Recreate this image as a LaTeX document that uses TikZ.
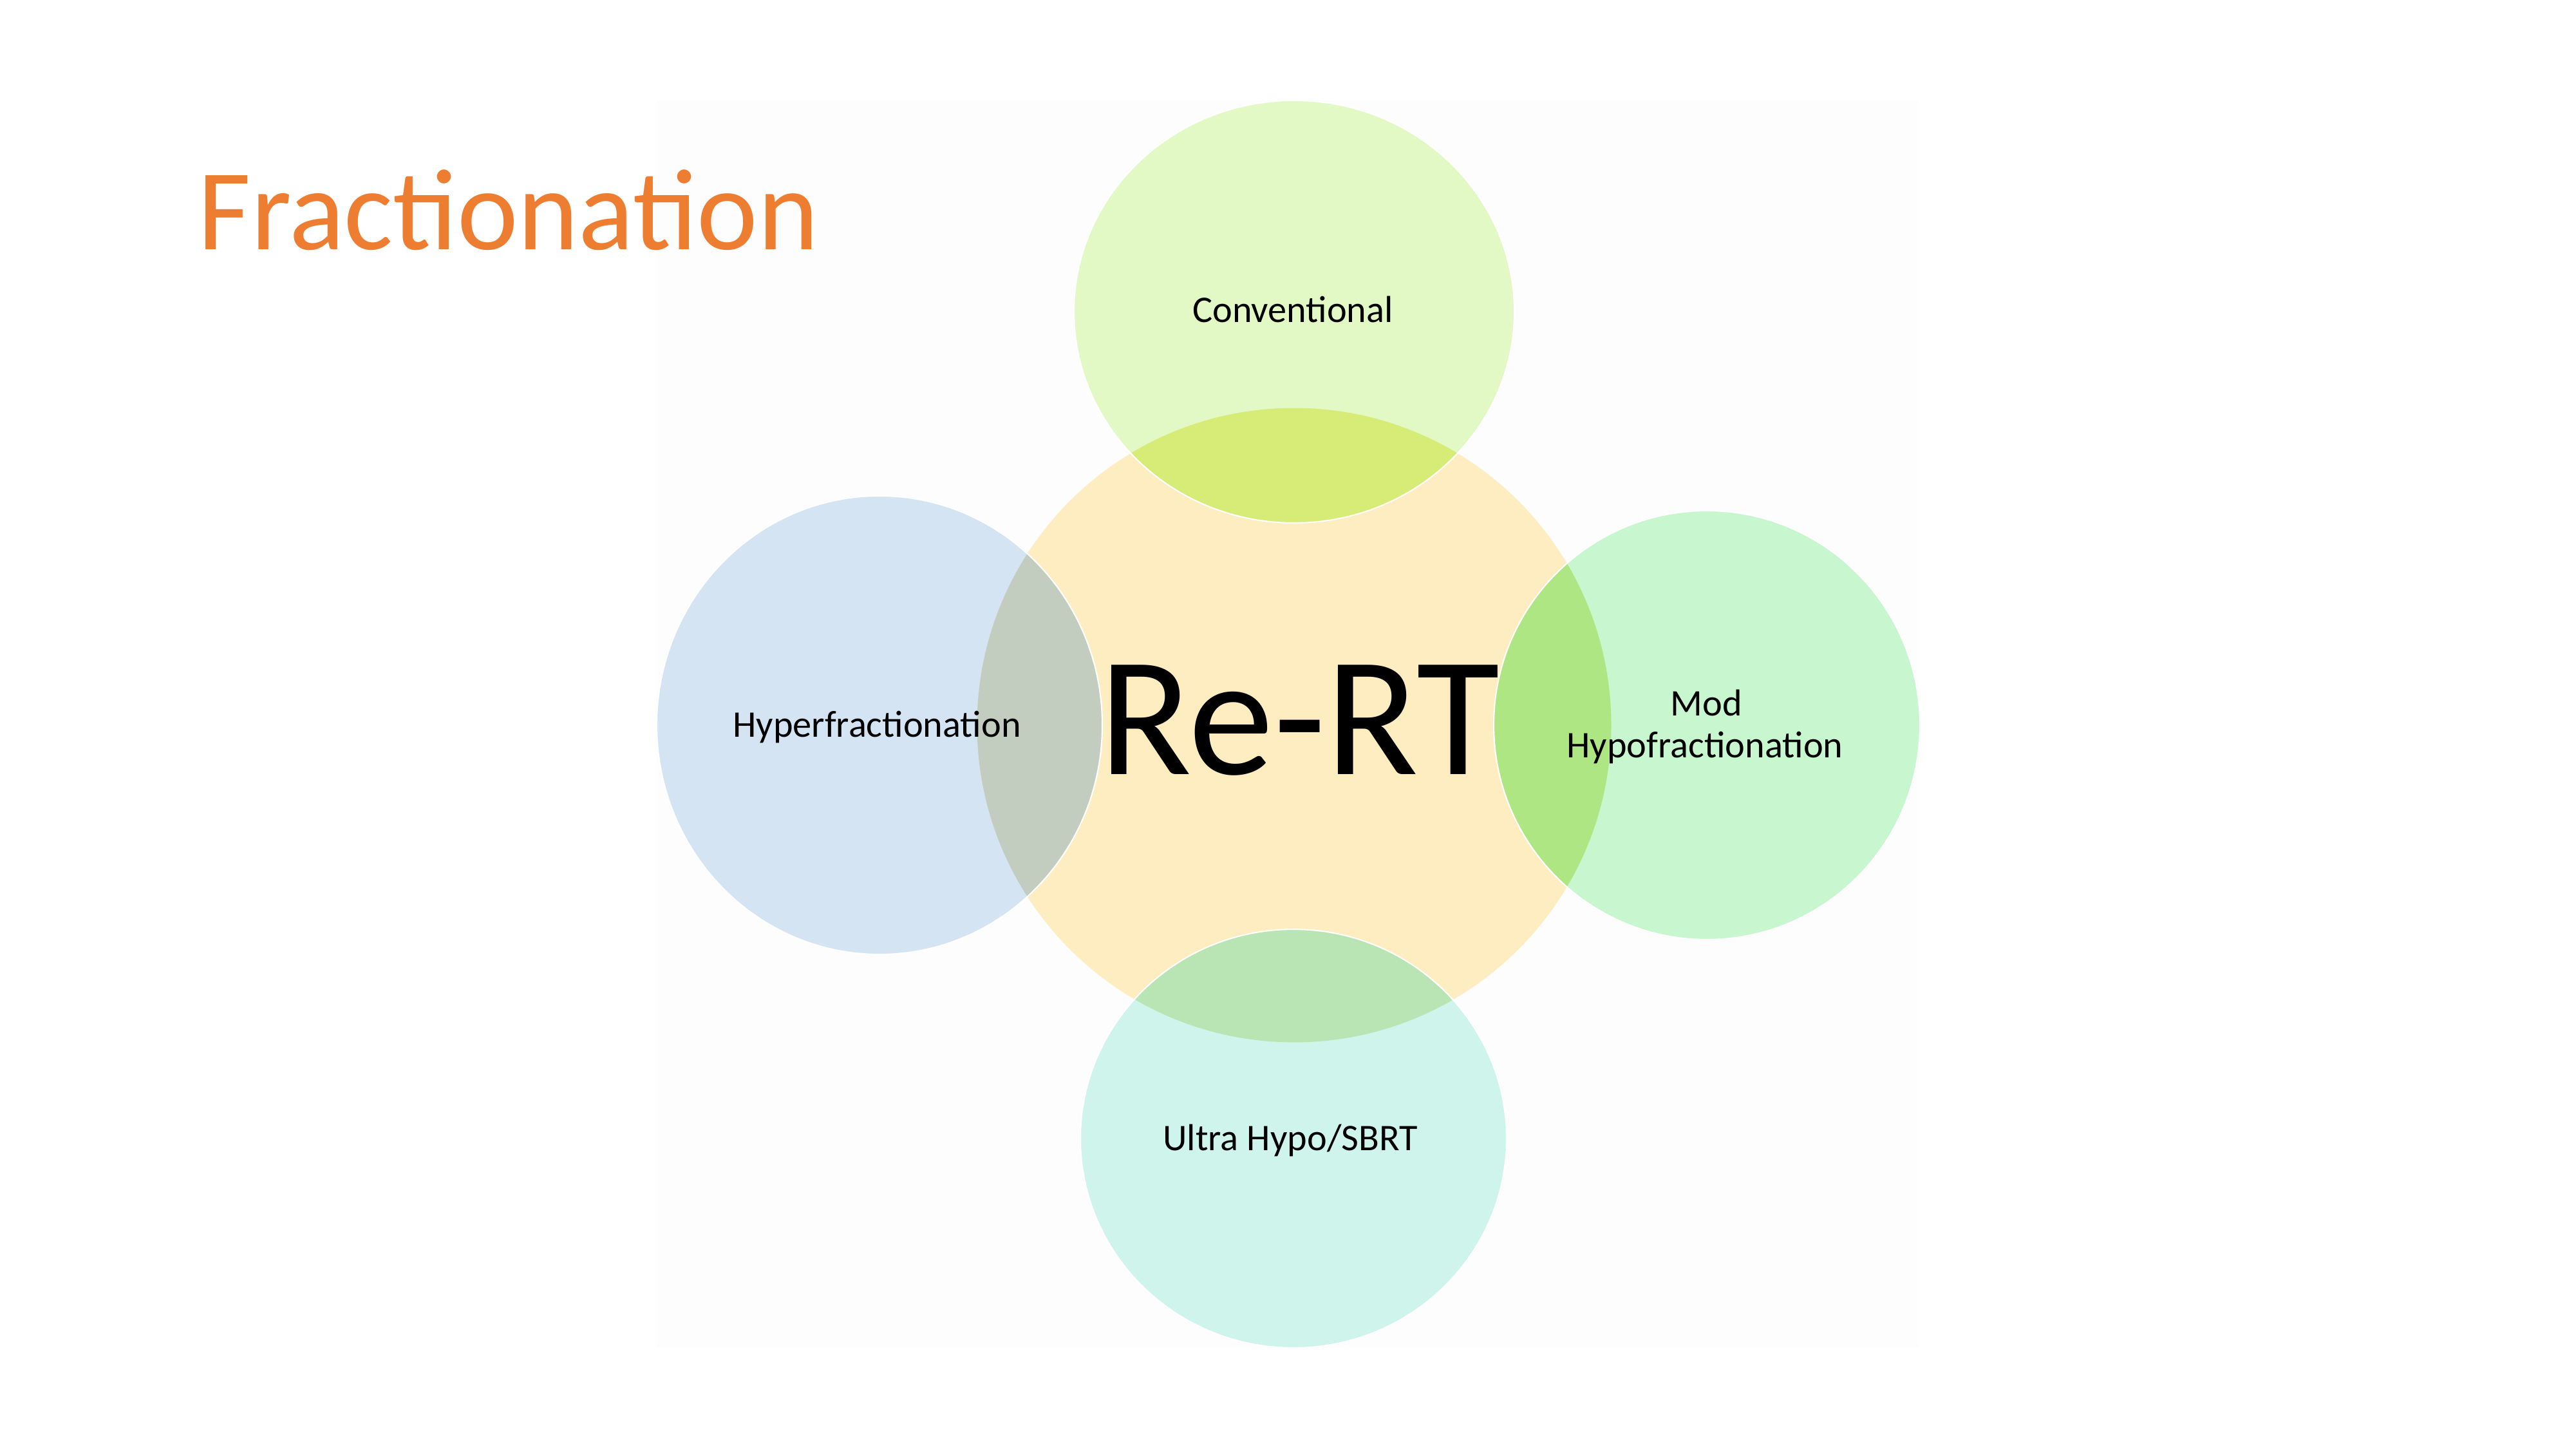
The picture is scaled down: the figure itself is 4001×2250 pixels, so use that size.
\documentclass[tikz,border=0pt]{standalone}
\usepackage{fontspec}
\setmainfont{Carlito}
\definecolor{panelbg}{HTML}{FDFDFD}
\definecolor{centerfill}{HTML}{FDEDC0}
\definecolor{topfill}{HTML}{E2F9C5}
\definecolor{toplens}{HTML}{D6EC76}
\definecolor{leftfill}{HTML}{D5E4F3}
\definecolor{leftlens}{HTML}{C2CCBF}
\definecolor{rightfill}{HTML}{C8F6CF}
\definecolor{rightlens}{HTML}{AEE684}
\definecolor{botfill}{HTML}{CFF4EC}
\definecolor{botlens}{HTML}{B8E5B3}
\definecolor{titleorange}{HTML}{ED7D31}
\tikzset{
  rim/.style={draw=white, line width=0.5pt},
  lbl/.style={inner sep=0pt, anchor=base, font=\fontsize{14}{15.4}\selectfont, text=black},
}
\begin{document}
\begin{tikzpicture}[x=0.24pt, y=-0.24pt]
\useasboundingbox (0,0) rectangle (4001,2250);
\fill[white] (0,0) rectangle (4001,2250);
\fill[panelbg] (1020,156) rectangle (2980,2093);
% centres
\coordinate (cC) at (2010,1126);
\coordinate (cT) at (2010,484);
\coordinate (cL) at (1366,1126);
\coordinate (cR) at (2651,1126);
\coordinate (cB) at (2009,1768);
% central circle
\fill[centerfill] (cC) circle [radius=118.2pt];
% satellites
\fill[topfill] (cT) ellipse [x radius=82.08pt, y radius=78.72pt];
\fill[leftfill] (cL) ellipse [x radius=83.04pt, y radius=85.44pt];
\fill[rightfill] (cR) ellipse [x radius=79.44pt, y radius=79.92pt];
\fill[botfill] (cB) ellipse [x radius=79.44pt, y radius=78pt];
% overlaps
\begin{scope}
  \clip (cC) circle [radius=118.2pt];
  \fill[toplens] (cT) ellipse [x radius=82.08pt, y radius=78.72pt];
  \fill[leftlens] (cL) ellipse [x radius=83.04pt, y radius=85.44pt];
  \fill[rightlens] (cR) ellipse [x radius=79.44pt, y radius=79.92pt];
  \fill[botlens] (cB) ellipse [x radius=79.44pt, y radius=78pt];
\end{scope}
% white rims
\draw[rim] (cT) ellipse [x radius=82.08pt, y radius=78.72pt];
\draw[rim] (cL) ellipse [x radius=83.04pt, y radius=85.44pt];
\draw[rim] (cR) ellipse [x radius=79.44pt, y radius=79.92pt];
\draw[rim] (cB) ellipse [x radius=79.44pt, y radius=78pt];
% texts
\node[inner sep=0pt, anchor=base west, text=titleorange, font=\fontsize{43}{52}\selectfont] (title) at (307,388) {Fractionation};
\node[inner sep=0pt, anchor=base, font=\fontsize{63.5}{70}\selectfont] (rert) at (2018,1202) {Re-RT};
\node[lbl] (conv) at (2008,501) {Conventional};
\node[lbl] (hyper) at (1362,1145) {Hyperfractionation};
\node[lbl] (modA) at (2650,1112) {Mod};
\node[lbl] (modB) at (2648,1176) {Hypofractionation};
\node[lbl] (ultra) at (2004,1786) {Ultra Hypo/SBRT};
\end{tikzpicture}
\end{document}
